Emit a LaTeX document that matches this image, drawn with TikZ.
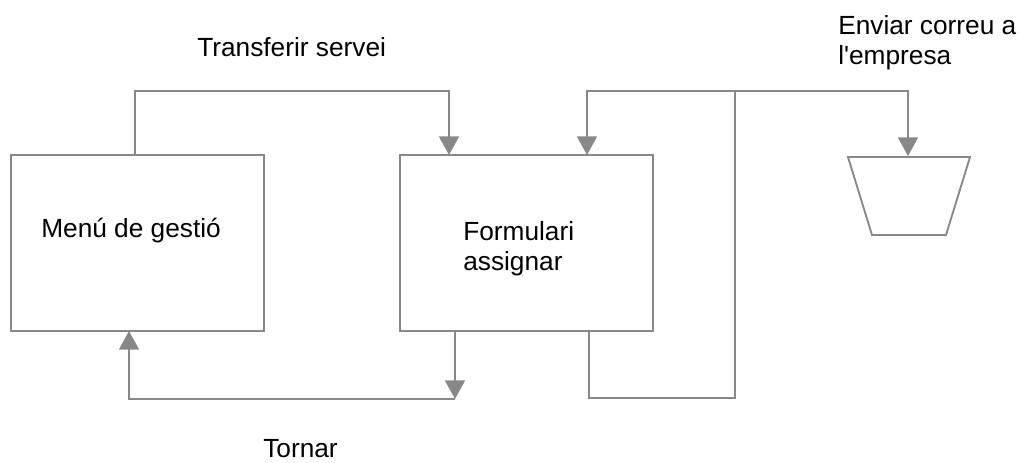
\documentclass[tikz,border=0pt]{standalone}
\usepackage{fontspec}
\setmainfont{Liberation Sans}[Ligatures=TeXOff]
\usetikzlibrary{arrows.meta,calc}
\definecolor{lgray}{RGB}{136,136,136}
\begin{document}
\begin{tikzpicture}[x=0.75pt,y=-0.75pt,
  conn/.style={draw=lgray,line width=1.4pt},
  arr/.style={conn,-{Triangle[width=15pt,length=14pt]}},
  boxst/.style={draw=lgray,line width=1.4pt,rectangle,inner sep=0pt,outer sep=0pt,minimum width=189.75pt,minimum height=132pt},
  lbl/.style={inner sep=0pt,font=\fontsize{19.7}{22.5}\selectfont,align=left}]
\useasboundingbox (0,0) rectangle (1022,462);
% boxes
\node[boxst] (menu) at (137.5,243) {};
\node[boxst] (form) at (526.5,243) {};
% trapezoid
\coordinate (trapTL) at (848,157);
\coordinate (trapTR) at (970,157);
\coordinate (trapBR) at (946,235);
\coordinate (trapBL) at (872,235);
\coordinate (trapTop) at (908,156);
\draw[conn,line join=miter] (trapTL) -- (trapTR) -- (trapBR) -- (trapBL) -- cycle;
% labels
\node[lbl,anchor=base west] (tmenu) at (41,237) {Menú de gestió};
\node[lbl,anchor=north west] (tform) at (463,221) {Formulari\\assignar};
\node[lbl,anchor=base west] (ttrans) at (197,56) {Transferir servei};
\node[lbl,anchor=base west] (ttorn) at (263,457) {Tornar};
\node[lbl,anchor=north west] (tenv) at (838,15) {Enviar correu a\\l'empresa};
% connectors
\draw[arr] ($(menu.north west)+(124,0)$) |- (449,91) -- ($(form.north west)+(49,0)$);
\coordinate (cornB) at (455,399);
\draw[arr] ($(form.south west)+(55,0)$) -- (cornB);
\draw[arr] (cornB) -| ($(menu.south west)+(118,0)$);
\coordinate (junc) at (735,91);
\draw[conn] ($(form.south west)+(189,0)$) |- (735,398) -- (junc);
\draw[arr] (junc) -| ($(form.north west)+(187,0)$);
\draw[arr] (junc) -| (trapTop);
\end{tikzpicture}
\end{document}
